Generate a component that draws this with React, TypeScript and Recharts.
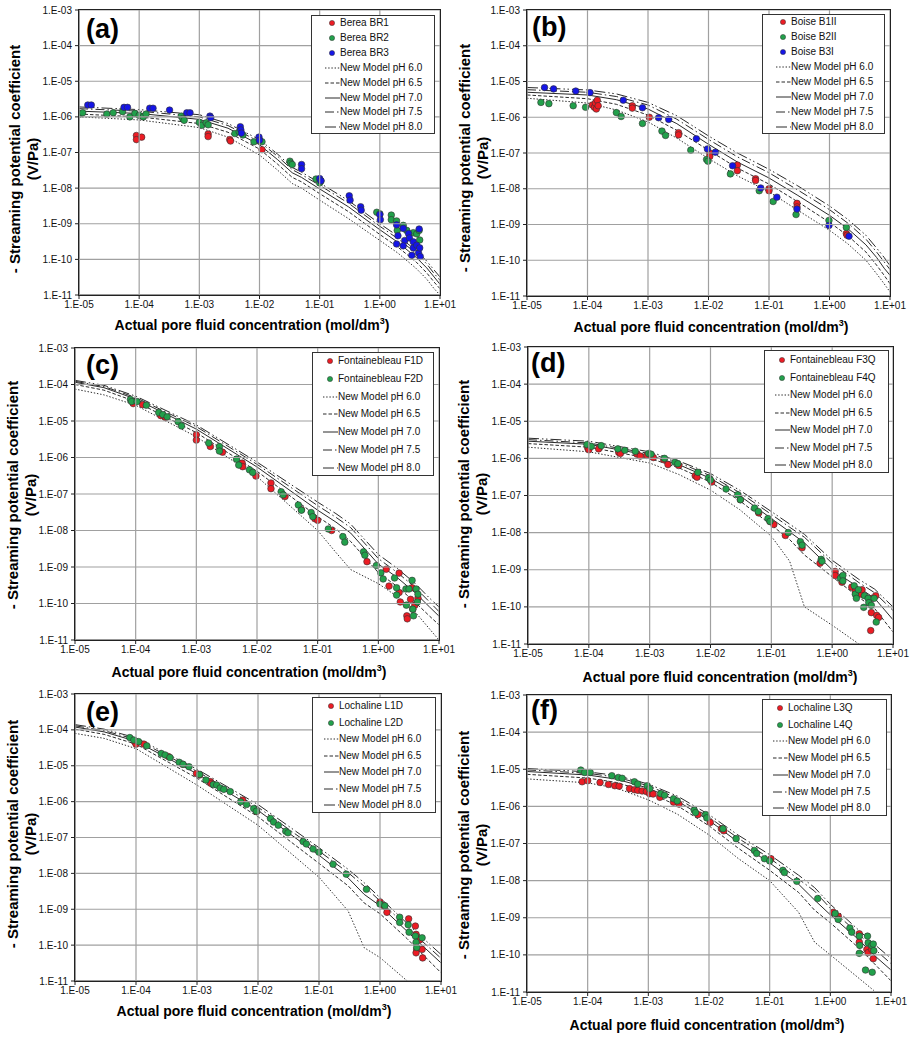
import React from 'react'
import { ScatterChart, Scatter, XAxis, YAxis } from 'recharts'

const FONT = '"Liberation Sans", Arial, Helvetica, sans-serif'

const X_TICKS = [1e-5, 1e-4, 1e-3, 1e-2, 1e-1, 1, 10]
const Y_TICKS = [1e-11, 1e-10, 1e-9, 1e-8, 1e-7, 1e-6, 1e-5, 1e-4, 1e-3]
const PH_LABELS = ['New Model pH 6.0', 'New Model pH 6.5', 'New Model pH 7.0', 'New Model pH 7.5', 'New Model pH 8.0']

// ---- (a) Berea ----
const aBR1 = [[9e-5, 3e-7], [9e-5, 2.3e-7], [1.1e-4, 2.7e-7], [1.4e-3, 3.3e-7], [1.4e-3, 2.8e-7], [3.2e-3, 2.3e-7], [3.3e-3, 2.1e-7], [1.1e-2, 1.2e-7]]
const aBR2 = [[1.05e-5, 1.2e-6], [1.15e-5, 1.3e-6], [2.9e-5, 1.2e-6], [3.7e-5, 1.3e-6], [5.3e-5, 1.4e-6], [7e-5, 1e-6], [8.5e-5, 1.25e-6], [1e-4, 1.1e-6], [1.17e-4, 1e-6], [1.3e-4, 1.2e-6], [5e-4, 1.05e-6], [5.3e-4, 9e-7], [5.6e-4, 8e-7], [1e-3, 7e-7], [1.1e-3, 5.8e-7], [1.3e-3, 6.8e-7], [1.4e-3, 6e-7], [3.9e-3, 3.4e-7], [4.6e-3, 3.8e-7], [5.3e-3, 3.1e-7], [8.1e-3, 2e-7], [1e-2, 2.2e-7], [1.1e-2, 2e-7], [3.2e-2, 5.7e-8], [3.3e-2, 5e-8], [3.5e-2, 4.6e-8], [8.7e-2, 1.8e-8], [1e-1, 1.4e-8], [1.05e-1, 1.6e-8], [0.89, 2.1e-9], [1.0, 1.9e-9], [1.55, 1.75e-9], [1.55, 1.3e-9], [1.9, 1.2e-9], [1.95, 6.5e-10], [2.45, 9e-10], [2.8, 6.5e-10], [3.6, 5.6e-10], [4.1, 5.2e-10], [4.5, 6.5e-10], [4.6, 3.5e-10]]
const aBR3 = [[1.4e-5, 2.15e-6], [1.6e-5, 2.15e-6], [5.6e-5, 1.85e-6], [6.4e-5, 1.85e-6], [1.5e-4, 1.75e-6], [1.7e-4, 1.75e-6], [3.2e-4, 1.55e-6], [6.2e-4, 1.3e-6], [7e-4, 1.3e-6], [1.5e-3, 1.05e-6], [1.55e-3, 9.5e-7], [4.8e-3, 5.3e-7], [4.9e-3, 4.3e-7], [5e-3, 3.5e-7], [9.8e-3, 2.7e-7], [1e-2, 2.2e-7], [5e-2, 4.6e-8], [5e-2, 3.5e-8], [1e-1, 1.85e-8], [1.05e-1, 1.6e-8], [0.31, 6.1e-9], [0.32, 4.6e-9], [0.48, 3e-9], [0.49, 2.4e-9], [1.0, 1.8e-9], [1.02, 1.3e-9], [1.9, 9.3e-10], [2.0, 4.6e-10], [1.9, 2.7e-10], [2.45, 7.4e-10], [2.6, 3.4e-10], [2.45, 2.4e-10], [3.0, 5.3e-10], [3.1, 4e-10], [3.6, 3.1e-10], [3.6, 2.1e-10], [3.4, 1.3e-10], [4.1, 2.5e-10], [4.4, 1.5e-10], [4.6, 2.1e-10], [4.5, 7.1e-10], [4.7, 1.2e-10]]
const aCurveX = [1e-5, 1e-4, 1e-3, 3e-3, 1e-2, 2e-2, 3.5e-2, 5e-2, 1e-1, 3e-1, 1, 2, 4, 6, 8, 10]
const aPH60 = [1.0e-6, 8.2e-7, 5e-7, 2.7e-7, 8.5e-8, 3.2e-8, 1.35e-8, 1e-8, 4.6e-9, 1.4e-9, 3.4e-10, 1.5e-10, 5.6e-11, 2.8e-11, 1.5e-11, 1e-11]
const aPH65 = [1.2e-6, 1.0e-6, 6.5e-7, 3.7e-7, 1.25e-7, 4.7e-8, 2e-8, 1.5e-8, 7e-9, 2.2e-9, 5e-10, 2.2e-10, 8.5e-11, 4.2e-11, 2.3e-11, 1.5e-11]
const aPH70 = [1.45e-6, 1.25e-6, 8.5e-7, 4.8e-7, 1.65e-7, 6.3e-8, 2.7e-8, 2e-8, 9.5e-9, 3.0e-9, 6.8e-10, 3e-10, 1.15e-10, 5.8e-11, 3.2e-11, 2e-11]
const aPH75 = [1.7e-6, 1.45e-6, 1.0e-6, 5.7e-7, 2.0e-7, 7.8e-8, 3.3e-8, 2.4e-8, 1.2e-8, 3.8e-9, 8.5e-10, 3.8e-10, 1.5e-10, 7.5e-11, 4e-11, 2.6e-11]
const aPH80 = [1.9e-6, 1.6e-6, 1.15e-6, 6.5e-7, 2.3e-7, 9e-8, 3.8e-8, 2.8e-8, 1.4e-8, 4.5e-9, 1.0e-9, 4.5e-10, 1.8e-10, 9e-11, 5e-11, 3.2e-11]

// ---- (b) Boise ----
const bB1II = [[1.2e-4, 2.2e-6], [1.3e-4, 1.9e-6], [1.35e-4, 2.5e-6], [1.4e-4, 1.7e-6], [1.45e-4, 3e-6], [1.5e-4, 2.1e-6], [5.5e-4, 2.1e-6], [5.5e-4, 1.8e-6], [1.05e-3, 1e-6], [3.2e-3, 3.7e-7], [3.2e-3, 3.2e-7], [1.05e-2, 1e-7], [1.05e-2, 8e-8], [3e-2, 4.6e-8], [3e-2, 3.2e-8], [6e-2, 1.9e-8], [6e-2, 1.7e-8], [0.1, 1e-8], [0.1, 8.8e-9], [0.29, 3.9e-9], [0.29, 3.1e-9], [1.9, 5.6e-10], [1.95, 5e-10]]
const bB2II = [[1.7e-5, 2.6e-6], [2.3e-5, 2.4e-6], [5.8e-5, 2.1e-6], [9.3e-5, 1.9e-6], [3e-4, 1.35e-6], [3.6e-4, 1.05e-6], [8.1e-4, 6.7e-7], [1.7e-3, 4.1e-7], [1.95e-3, 3.1e-7], [5.1e-3, 1.2e-7], [9.3e-3, 6.6e-8], [9.8e-3, 5.9e-8], [2.3e-2, 2.6e-8], [6.9e-2, 8.8e-9], [0.117, 4.4e-9], [0.28, 1.9e-9], [0.98, 1.3e-9], [1.9, 8.3e-10]]
const bB3I = [[1.95e-5, 6.8e-6], [2.75e-5, 6.2e-6], [6.4e-5, 5.4e-6], [1.1e-4, 4.9e-6], [3.9e-4, 3e-6], [8.1e-4, 1.85e-6], [1.5e-3, 9.7e-7], [2.2e-3, 8.7e-7], [6.3e-3, 2.5e-7], [9.6e-3, 1.3e-7], [1.3e-2, 1.05e-7], [2.5e-2, 4.4e-8], [7.3e-2, 1.05e-8], [0.135, 5.8e-9], [0.29, 2.7e-9], [0.98, 9.4e-10], [2.1, 4.7e-10]]
const bCurveX = [1e-5, 1e-4, 3e-4, 1e-3, 3e-3, 1e-2, 3e-2, 1e-1, 3e-1, 1, 2, 4, 6, 8, 10]
const bPH60 = [3.4e-6, 2.5e-6, 1.6e-6, 7.4e-7, 2.6e-7, 7e-8, 2.3e-8, 8.2e-9, 2.5e-9, 6.9e-10, 2.9e-10, 1e-10, 4.2e-11, 2.2e-11, 1.3e-11]
const bPH65 = [4.2e-6, 3.3e-6, 2.3e-6, 1.15e-6, 4.3e-7, 1.2e-7, 3.8e-8, 1.35e-8, 4.3e-9, 1.15e-9, 4.9e-10, 1.7e-10, 7.3e-11, 3.8e-11, 2.2e-11]
const bPH70 = [5.0e-6, 4.2e-6, 3.1e-6, 1.7e-6, 6.6e-7, 1.75e-7, 5.6e-8, 2e-8, 6.5e-9, 1.8e-9, 7.7e-10, 2.7e-10, 1.2e-10, 6e-11, 3.8e-11]
const bPH75 = [5.9e-6, 5.0e-6, 3.8e-6, 2.2e-6, 8.8e-7, 2.4e-7, 7.8e-8, 2.8e-8, 9.2e-9, 2.6e-9, 1.1e-9, 3.9e-10, 1.7e-10, 9e-11, 5.5e-11]
const bPH80 = [6.8e-6, 5.8e-6, 4.5e-6, 2.6e-6, 1.1e-6, 3e-7, 1.0e-7, 3.5e-8, 1.2e-8, 3.3e-9, 1.4e-9, 5e-10, 2.2e-10, 1.2e-10, 7e-11]

// ---- (c) Fontainebleau F1D / F2D ----
const cF1D = [[9.1e-5, 3e-5], [1.3e-4, 2.8e-5], [2.6e-4, 1.4e-5], [3.1e-4, 1.25e-5], [1e-3, 4.2e-6], [1e-3, 3e-6], [1.7e-3, 2e-6], [2.7e-3, 1.4e-6], [5.7e-3, 7e-7], [5.8e-3, 5.6e-7], [9.6e-3, 3.1e-7], [1.7e-2, 2e-7], [1.7e-2, 1.4e-7], [2.9e-2, 8.5e-8], [5.4e-2, 3.7e-8], [9e-2, 2.1e-8], [0.1, 1.9e-8], [0.17, 1e-8], [0.65, 1.4e-9], [1.35, 8.7e-10], [1.5, 3e-10], [2.2, 6.8e-10], [2.2, 2e-10], [2.3, 1.1e-10], [2.95, 4.6e-11], [3.0, 3.8e-11], [3.4, 1.3e-10], [3.6, 2.7e-10], [3.7, 7e-11], [4.0, 9e-11], [4.5, 1.4e-10]]
const cF2D = [[8.2e-5, 3.9e-5], [8.6e-5, 3.4e-5], [1.05e-4, 3.4e-5], [1.5e-4, 2.7e-5], [2.4e-4, 1.7e-5], [2.8e-4, 1.5e-5], [3.3e-4, 1.3e-5], [5e-4, 9.6e-6], [5.7e-4, 7.3e-6], [1.6e-3, 2.5e-6], [2.4e-3, 2e-6], [2.4e-3, 1.5e-6], [4.6e-3, 9e-7], [5e-3, 6.2e-7], [7.5e-3, 4.6e-7], [8.5e-3, 3.9e-7], [2.5e-2, 1.15e-7], [2.7e-2, 9.5e-8], [4.8e-2, 5e-8], [5.4e-2, 3.6e-8], [7.8e-2, 3.1e-8], [8.3e-2, 2.4e-8], [0.15, 1.1e-8], [0.26, 6.8e-9], [0.28, 4.8e-9], [0.57, 2.6e-9], [0.6, 2.1e-9], [0.93, 1.1e-9], [1.1, 6.9e-10], [1.2, 4.7e-10], [1.85, 5e-10], [2.0, 2.7e-10], [2.0, 1.7e-10], [2.85, 2.5e-10], [2.9, 9e-11], [3.2, 2.5e-10], [3.6, 4.3e-10], [3.7, 7e-11], [3.8, 4.6e-11], [4.2, 2.5e-10], [4.4, 1.1e-10], [4.5, 1.8e-10]]
const cCurveX = [1e-5, 3e-5, 1e-4, 1e-3, 1e-2, 1e-1, 2e-1, 3.5e-1, 1, 2, 4, 7, 10]
const cPH60 = [7.5e-5, 5.2e-5, 2.7e-5, 3.7e-6, 3e-7, 1e-8, 2.5e-9, 8.5e-10, 3.5e-10, 1.6e-10, 6e-11, 2e-11, 1e-11]
const cPH65 = [1.0e-4, 7e-5, 3.4e-5, 4.8e-6, 4.2e-7, 2.4e-8, 1.1e-8, 5e-9, 7e-10, 3e-10, 1.1e-10, 4.5e-11, 2.6e-11]
const cPH70 = [1.15e-4, 8.2e-5, 4e-5, 6e-6, 5.5e-7, 3.6e-8, 1.7e-8, 8.5e-9, 1.2e-9, 5.3e-10, 2e-10, 8e-11, 4.5e-11]
const cPH75 = [1.22e-4, 8.8e-5, 4.4e-5, 7e-6, 6.5e-7, 4.8e-8, 2.3e-8, 1.2e-8, 1.7e-9, 7.3e-10, 2.8e-10, 1.1e-10, 6e-11]
const cPH80 = [1.3e-4, 9.5e-5, 4.8e-5, 7.8e-6, 7.5e-7, 6e-8, 2.9e-8, 1.5e-8, 2.2e-9, 9.5e-10, 3.6e-10, 1.4e-10, 8e-11]

// ---- (d) Fontainebleau F3Q / F4Q ----
const dF3Q = [[9.6e-5, 1.9e-6], [1e-4, 1.7e-6], [1.45e-4, 1.8e-6], [3.1e-4, 1.45e-6], [3.3e-4, 1.35e-6], [6.2e-4, 1.3e-6], [7e-4, 1.15e-6], [9e-4, 1.2e-6], [1.05e-3, 1.15e-6], [1.15e-3, 1.05e-6], [1.7e-3, 9.2e-7], [2e-3, 6.8e-7], [3e-3, 6.4e-7], [5.6e-3, 3.4e-7], [6e-3, 3.1e-7], [1.05e-2, 2.3e-7], [3.1e-2, 7.7e-8], [6.2e-2, 3.4e-8], [9.5e-2, 2e-8], [0.11, 1.65e-8], [0.17, 8.4e-9], [0.32, 3.9e-9], [0.63, 1.5e-9], [1.12, 9e-10], [1.12, 7e-10], [1.45, 4.6e-10], [2.1, 3.4e-10], [2.4, 2.6e-10], [3.0, 2.2e-10], [3.1, 2.9e-10], [4.4, 7e-11], [4.3, 2.3e-11], [4.5, 1.7e-10], [5.2, 2e-10], [5.4, 5.9e-11], [5.8, 5.2e-11]]
const dF4Q = [[9.3e-5, 2.35e-6], [1.1e-4, 2.1e-6], [1.6e-4, 2.2e-6], [3e-4, 1.8e-6], [3.9e-4, 1.65e-6], [5.8e-4, 1.55e-6], [9.6e-4, 1.35e-6], [1.05e-3, 1.3e-6], [1.75e-3, 1e-6], [2.6e-3, 7.9e-7], [2.9e-3, 7.2e-7], [6.2e-3, 4.2e-7], [9.3e-3, 3e-7], [1e-2, 2.6e-7], [1.8e-2, 1.5e-7], [2.8e-2, 1.05e-7], [3.1e-2, 7.7e-8], [5.3e-2, 4.6e-8], [6.1e-2, 3.7e-8], [8.8e-2, 2.4e-8], [9.5e-2, 2e-8], [0.19, 1e-8], [0.3, 5.7e-9], [0.32, 4.6e-9], [0.66, 1.9e-9], [0.68, 1.7e-9], [1.37, 5.9e-10], [1.5, 7e-10], [1.5, 5e-10], [2.3, 3.7e-10], [2.4, 2.2e-10], [2.5, 1.7e-10], [2.7, 2.9e-10], [3.4, 2e-10], [3.9, 1.7e-10], [4.0, 1.3e-10], [3.3, 9.7e-11], [4.4, 1.1e-10], [4.9, 1.7e-10], [5.3, 3.9e-11]]
const dCurveX = [1e-5, 1e-4, 1e-3, 3e-3, 1e-2, 3e-2, 1e-1, 2e-1, 3.5e-1, 1, 2.75, 5, 10]
const dPH60 = [2.0e-6, 1.5e-6, 7.5e-7, 3.7e-7, 1.4e-7, 4.2e-8, 8e-9, 1.7e-9, 1e-10, 3.2e-11, 1e-11, null, null]
const dPH65 = [2.5e-6, 2.0e-6, 1.0e-6, 5.6e-7, 2.3e-7, 7.3e-8, 1.6e-8, 6.5e-9, 2.5e-9, 6.5e-10, 1.8e-10, 9e-11, 2.1e-11]
const dPH70 = [2.9e-6, 2.4e-6, 1.2e-6, 6.8e-7, 2.9e-7, 1e-7, 2.4e-8, 1.05e-8, 5.3e-9, 1e-9, 3.3e-10, 1.7e-10, 4.5e-11]
const dPH75 = [3.2e-6, 2.6e-6, 1.35e-6, 7.7e-7, 3.4e-7, 1.2e-7, 3.1e-8, 1.4e-8, 7.5e-9, 1.5e-9, 4.5e-10, 2.4e-10, 8e-11]
const dPH80 = [3.5e-6, 2.9e-6, 1.5e-6, 8.5e-7, 3.9e-7, 1.4e-7, 3.7e-8, 1.7e-8, 9e-9, 1.8e-9, 5.5e-10, 3e-10, 1e-10]

// ---- (e) Lochaline L1D / L2D ----
const eL1D = [[9.5e-5, 4.7e-5], [1e-4, 4e-5], [1.35e-4, 4e-5], [3.4e-4, 1.8e-5], [5.8e-4, 1.1e-5], [9.8e-4, 6.1e-6], [1.1e-3, 5.5e-6], [1.65e-3, 3.6e-6], [1.7e-3, 3.2e-6], [5.6e-3, 1.1e-6], [9.5e-3, 5.3e-7], [1.0, 1.6e-9], [1.15, 1.25e-9], [1.3, 8.2e-10], [2.95, 5.4e-10], [3.8, 3.4e-10], [3.9, 2e-10], [4.0, 7.6e-11], [3.9, 6.1e-11], [4.9, 7.6e-11], [5.0, 4.4e-11], [4.5, 1.4e-10]]
const eL2D = [[7.9e-5, 6.1e-5], [9.2e-5, 5.2e-5], [1.1e-4, 4.7e-5], [1.5e-4, 3.6e-5], [2.6e-4, 2.2e-5], [3e-4, 2e-5], [3.6e-4, 1.7e-5], [5.1e-4, 1.25e-5], [5.9e-4, 1.1e-5], [7.4e-4, 9.4e-6], [1.1e-3, 5.7e-6], [1.4e-3, 4e-6], [1.85e-3, 3e-6], [2.1e-3, 2.9e-6], [2.4e-3, 2.4e-6], [2.75e-3, 2.2e-6], [3.5e-3, 1.9e-6], [5.2e-3, 9.9e-7], [6.5e-3, 8.3e-7], [8.5e-3, 6.4e-7], [9.4e-3, 5.4e-7], [1.6e-2, 3.4e-7], [1.8e-2, 2.7e-7], [2.15e-2, 2.2e-7], [2.85e-2, 1.5e-7], [3.1e-2, 1.35e-7], [5.5e-2, 7.7e-8], [6.2e-2, 6.6e-8], [8e-2, 4.8e-8], [0.1, 3.9e-8], [0.17, 1.8e-8], [0.28, 9.5e-9], [0.6, 3.6e-9], [1.0, 1.4e-9], [1.2, 1.25e-9], [2.1, 6e-10], [2.1, 4.3e-10], [2.9, 3.7e-10], [3.0, 2.3e-10], [3.8, 1.8e-10], [3.9, 1.2e-10], [4.0, 8.6e-11], [4.9, 1.6e-10]]
const eCurveX = [1e-5, 3e-5, 1e-4, 1e-3, 1e-2, 1e-1, 3e-1, 5.5e-1, 1, 2.8, 5, 10]
const ePH60 = [8e-5, 5.8e-5, 3e-5, 2.9e-6, 2.2e-7, 7.8e-9, 9e-10, 8.5e-11, 4.5e-11, 1e-11, null, null]
const ePH65 = [1.05e-4, 7.5e-5, 4e-5, 4.5e-6, 3.8e-7, 1.9e-8, 4.5e-9, 1.5e-9, 7.5e-10, 1.5e-10, 5.5e-11, 1.7e-11]
const ePH70 = [1.2e-4, 8.8e-5, 4.8e-5, 6e-6, 5.7e-7, 3.2e-8, 7.5e-9, 2.6e-9, 1.25e-9, 2.4e-10, 9.5e-11, 3.2e-11]
const ePH75 = [1.3e-4, 9.5e-5, 5.4e-5, 7e-6, 7e-7, 4.2e-8, 1.05e-8, 4.4e-9, 1.7e-9, 3.2e-10, 1.25e-10, 4.3e-11]
const ePH80 = [1.4e-4, 1.05e-4, 6e-5, 8e-6, 8.3e-7, 5.2e-8, 1.3e-8, 5.5e-9, 2.1e-9, 4e-10, 1.6e-10, 5.5e-11]

// ---- (f) Lochaline L3Q / L4Q ----
const fL3Q = [[8.1e-5, 4.6e-6], [1e-4, 4.9e-6], [1.6e-4, 4.4e-6], [2.2e-4, 3.9e-6], [2.8e-4, 3.6e-6], [3.3e-4, 3.5e-6], [4.9e-4, 3e-6], [5.9e-4, 2.8e-6], [6.7e-4, 2.7e-6], [7.9e-4, 2.6e-6], [9.3e-4, 2.5e-6], [1.05e-3, 2.2e-6], [1.2e-3, 2.15e-6], [1.55e-3, 1.75e-6], [2.6e-3, 1.3e-6], [3.2e-3, 1.15e-6], [6.6e-3, 6e-7], [1.05e-2, 3.7e-7], [1.6e-2, 2.5e-7], [1.75e-2, 2.2e-7], [0.105, 3.9e-8], [1.12, 1.4e-9], [1.35, 1.1e-9], [3.0, 3.7e-10], [3.0, 2.2e-10], [4.0, 1.4e-10], [4.2, 1.15e-10], [4.8, 1.4e-10], [5.1, 7.9e-11]]
const fL4Q = [[7.7e-5, 9.5e-6], [8.9e-5, 8.2e-6], [1.1e-4, 8.2e-6], [2.5e-4, 6.7e-6], [3.2e-4, 6e-6], [3.7e-4, 5.7e-6], [5.9e-4, 4.6e-6], [6.7e-4, 4e-6], [9.6e-4, 3.6e-6], [1.05e-3, 3e-6], [1.6e-3, 2.2e-6], [1.85e-3, 2e-6], [2.6e-3, 1.6e-6], [3e-3, 1.4e-6], [5.7e-3, 7.9e-7], [6e-3, 6.8e-7], [8.8e-3, 6e-7], [9.2e-3, 4.9e-7], [1.7e-2, 2.5e-7], [2.8e-2, 1.35e-7], [5.6e-2, 6.5e-8], [6.1e-2, 5.4e-8], [8.2e-2, 3.9e-8], [0.1, 3.4e-8], [0.165, 1.9e-8], [0.175, 1.65e-8], [0.28, 9.6e-9], [0.62, 3.3e-9], [1.2, 1.3e-9], [1.35, 9e-10], [2.1, 5.3e-10], [2.25, 4.1e-10], [3.0, 3.2e-10], [3.05, 1.8e-10], [3.0, 1.1e-10], [3.8, 3.9e-11], [4.1, 3.2e-10], [4.2, 2.1e-10], [4.8, 1.8e-10], [4.9, 3.4e-11], [5.1, 1.95e-10], [5.2, 1.3e-10]]
const fCurveX = [1e-5, 1e-4, 3e-4, 1e-3, 3e-3, 1e-2, 3e-2, 1e-1, 3e-1, 5.5e-1, 1, 3, 5.2, 10]
const fPH60 = [5.5e-6, 4.3e-6, 3.1e-6, 1.5e-6, 6.2e-7, 1.7e-7, 4e-8, 1e-8, 1.4e-9, 2.2e-10, 1e-10, 2.3e-11, 1.1e-11, null]
const fPH65 = [7.3e-6, 5.8e-6, 4.4e-6, 2.4e-6, 1.05e-6, 3e-7, 7.6e-8, 1.9e-8, 4.8e-9, 1.6e-9, 7.3e-10, 1.5e-10, 6e-11, 2e-11]
const fPH70 = [8.7e-6, 7e-6, 5.4e-6, 3.1e-6, 1.4e-6, 4.2e-7, 1.1e-7, 3e-8, 8e-9, 3e-9, 1.2e-9, 2.5e-10, 1e-10, 3.9e-11]
const fPH75 = [9.6e-6, 7.8e-6, 6.1e-6, 3.6e-6, 1.65e-6, 5.1e-7, 1.4e-7, 4e-8, 1.1e-8, 5.2e-9, 1.8e-9, 3.5e-10, 1.5e-10, 5.8e-11]
const fPH80 = [1.05e-5, 8.5e-6, 6.8e-6, 4e-6, 1.9e-6, 6e-7, 1.7e-7, 5e-8, 1.4e-8, 6.5e-9, 2.3e-9, 4.5e-10, 2e-10, 8e-11]

const RED = '#ec1c24'
const GREEN = '#22a04b'
const BLUE = '#1515e6'
const LINE_COLOR = '#2a2a2a'
const GRID = '#a0a0a0'
const DASHES = ['1.4 1.8', '3.5 2', undefined, '9 3 1.5 3', '11 3 1.5 2.5 1.5 3']
const TICK_SIZE = 4
const TICK_GAP = 3

type Pts = number[][]
type PanelDef = {
  letter: string
  plot: { l: number; t: number; r: number; b: number }
  legend: { l: number; t: number; w: number; h: number; first: number; step: number; sample: number; text: number }
  letterPos: { l: number; cy: number }
  xLabel: { cx: number; cy: number }
  yLabel: { cx: number; cy: number }
  series: { name: string; color: string; pts: Pts }[]
  curveX: number[]
  curves: (number | null)[][]
}

const PANELS: PanelDef[] = [
  {
    letter: '(a)', plot: { l: 79, t: 10, r: 440, b: 295 },
    legend: { l: 311, t: 15, w: 124, h: 119, first: 7, step: 14.9, sample: 13, text: 28 },
    letterPos: { l: 86, cy: 29 }, xLabel: { cx: 252, cy: 325 }, yLabel: { cx: 24, cy: 159 },
    series: [{ name: 'Berea BR1', color: RED, pts: aBR1 }, { name: 'Berea BR2', color: GREEN, pts: aBR2 }, { name: 'Berea BR3', color: BLUE, pts: aBR3 }],
    curveX: aCurveX, curves: [aPH60, aPH65, aPH70, aPH75, aPH80],
  },
  {
    letter: '(b)', plot: { l: 527, t: 10, r: 890, b: 296 },
    legend: { l: 762, t: 14, w: 123, h: 120, first: 7, step: 15, sample: 13, text: 28 },
    letterPos: { l: 532, cy: 27 }, xLabel: { cx: 711, cy: 327 }, yLabel: { cx: 474, cy: 158 },
    series: [{ name: 'Boise B1II', color: RED, pts: bB1II }, { name: 'Boise B2II', color: GREEN, pts: bB2II }, { name: 'Boise B3I', color: BLUE, pts: bB3I }],
    curveX: bCurveX, curves: [bPH60, bPH65, bPH70, bPH75, bPH80],
  },
  {
    letter: '(c)', plot: { l: 75, t: 348, r: 439, b: 640 },
    legend: { l: 312, t: 352, w: 122, h: 124, first: 8, step: 17.8, sample: 10, text: 25 },
    letterPos: { l: 86, cy: 365 }, xLabel: { cx: 249, cy: 672 }, yLabel: { cx: 22, cy: 495 },
    series: [{ name: 'Fontainebleau F1D', color: RED, pts: cF1D }, { name: 'Fontainebleau F2D', color: GREEN, pts: cF2D }],
    curveX: cCurveX, curves: [cPH60, cPH65, cPH70, cPH75, cPH80],
  },
  {
    letter: '(d)', plot: { l: 528, t: 347, r: 893, b: 644 },
    legend: { l: 764, t: 350, w: 125, h: 123, first: 9, step: 17.5, sample: 10, text: 25 },
    letterPos: { l: 531, cy: 363 }, xLabel: { cx: 720, cy: 677 }, yLabel: { cx: 473, cy: 494 },
    series: [{ name: 'Fontainebleau F3Q', color: RED, pts: dF3Q }, { name: 'Fontainebleau F4Q', color: GREEN, pts: dF4Q }],
    curveX: dCurveX, curves: [dPH60, dPH65, dPH70, dPH75, dPH80],
  },
  {
    letter: '(e)', plot: { l: 75, t: 694, r: 441, b: 981 },
    legend: { l: 312, t: 697, w: 124, h: 116, first: 8, step: 16.5, sample: 11, text: 26 },
    letterPos: { l: 86, cy: 712 }, xLabel: { cx: 254, cy: 1011 }, yLabel: { cx: 22, cy: 834 },
    series: [{ name: 'Lochaline L1D', color: RED, pts: eL1D }, { name: 'Lochaline L2D', color: GREEN, pts: eL2D }],
    curveX: eCurveX, curves: [ePH60, ePH65, ePH70, ePH75, ePH80],
  },
  {
    letter: '(f)', plot: { l: 527, t: 695, r: 891, b: 992 },
    legend: { l: 762, t: 699, w: 125, h: 117, first: 8, step: 16.7, sample: 10, text: 25 },
    letterPos: { l: 531, cy: 710 }, xLabel: { cx: 707, cy: 1025 }, yLabel: { cx: 473, cy: 845 },
    series: [{ name: 'Lochaline L3Q', color: RED, pts: fL3Q }, { name: 'Lochaline L4Q', color: GREEN, pts: fL4Q }],
    curveX: fCurveX, curves: [fPH60, fPH65, fPH70, fPH75, fPH80],
  },
]

const fmtTick = (v: number) => {
  const e = Math.round(Math.log10(v))
  return `1.E${e < 0 ? '-' : '+'}${String(Math.abs(e)).padStart(2, '0')}`
}

const toCurve = (xs: number[], ys: (number | null)[]) =>
  xs.map((x, i) => ({ x, y: ys[i] })).filter((p) => p.y != null)

const toPoints = (pts: Pts) => pts.map(([x, y]) => ({ x, y }))

const noDot = () => <g />

function dotShape(color: string) {
  return (props: any) => (
    <circle cx={props.cx} cy={props.cy} r={3.3} fill={color} stroke="#333" strokeWidth={0.6} />
  )
}

// tick renderers that also draw the gridline at the tick coordinate given by the axis scale
function xTick(plotH: number) {
  return (props: any) => {
    const { x, y, payload } = props
    const yAxis = y - TICK_SIZE - 2
    return (
      <g>
        <line x1={x} x2={x} y1={yAxis} y2={yAxis - plotH} stroke={GRID} strokeWidth={1.2} />
        <text x={x} y={y} dy="0.71em" textAnchor="middle" fontSize={10} fill="#111" fontFamily={FONT}>
          {fmtTick(payload.value)}
        </text>
      </g>
    )
  }
}

function yTick(plotW: number) {
  return (props: any) => {
    const { x, y, payload } = props
    const xAxis = x + TICK_SIZE + TICK_GAP
    return (
      <g>
        <line x1={xAxis} x2={xAxis + plotW} y1={y} y2={y} stroke={GRID} strokeWidth={1.2} />
        <text x={x} y={y} dy="0.355em" textAnchor="end" fontSize={10} fill="#111" fontFamily={FONT}>
          {fmtTick(payload.value)}
        </text>
      </g>
    )
  }
}

function PanelChart({ p }: { p: PanelDef }) {
  const plotW = p.plot.r - p.plot.l
  const plotH = p.plot.b - p.plot.t
  const w = plotW + 80
  const h = plotH + 30
  return (
    <div style={{ position: 'absolute', left: p.plot.l - 60, top: p.plot.t - 5 }}>
      <ScatterChart width={w} height={h} margin={{ top: 5, right: 20, left: 0, bottom: 0 }}>
        <XAxis
          type="number" dataKey="x" scale="log" domain={[X_TICKS[0], X_TICKS[X_TICKS.length - 1]]} ticks={X_TICKS}
          allowDataOverflow interval={0} tick={xTick(plotH)}
          tickSize={TICK_SIZE} tickMargin={2} height={25} axisLine={{ stroke: '#222' }} tickLine={{ stroke: '#222' }}
        />
        <YAxis
          type="number" dataKey="y" scale="log" domain={[Y_TICKS[0], Y_TICKS[Y_TICKS.length - 1]]} ticks={Y_TICKS}
          allowDataOverflow interval={0} tick={yTick(plotW)}
          tickSize={TICK_SIZE} tickMargin={TICK_GAP} width={60} axisLine={{ stroke: '#222' }} tickLine={{ stroke: '#222' }}
        />
        {p.curves.map((ys, i) => (
          <Scatter
            key={`m${i}`} name={PH_LABELS[i]} data={toCurve(p.curveX, ys)} shape={noDot}
            line={{ stroke: LINE_COLOR, strokeWidth: 1, strokeDasharray: DASHES[i] }}
            legendType="none" isAnimationActive={false}
          />
        ))}
        {p.series.map((s) => (
          <Scatter key={s.name} name={s.name} data={toPoints(s.pts)} shape={dotShape(s.color)} isAnimationActive={false} />
        ))}
      </ScatterChart>
    </div>
  )
}

function PlotFrame({ p }: { p: PanelDef }) {
  return (
    <div
      style={{
        position: 'absolute', left: p.plot.l - 0.75, top: p.plot.t - 0.75,
        width: p.plot.r - p.plot.l + 1.5, height: p.plot.b - p.plot.t + 1.5,
        boxSizing: 'border-box', border: '1.5px solid #222', pointerEvents: 'none',
      }}
    />
  )
}

function LegendBox({ p }: { p: PanelDef }) {
  const L = p.legend
  const rows = [
    ...p.series.map((s) => ({ label: s.name, color: s.color, dash: null as string | undefined | null })),
    ...PH_LABELS.map((label, i) => ({ label, color: null as string | null, dash: DASHES[i] })),
  ]
  return (
    <div
      style={{
        position: 'absolute', left: L.l, top: L.t, width: L.w, height: L.h, boxSizing: 'border-box',
        border: '1.5px solid #333', background: '#fff', fontFamily: FONT, fontSize: 10, color: '#111',
      }}
    >
      {rows.map((r, i) => (
        <div key={r.label} style={{ position: 'absolute', left: 0, top: L.first + i * L.step - 7, height: 14, width: '100%' }}>
          <svg width={18} height={14} style={{ position: 'absolute', left: L.sample - 1, top: 0 }}>
            {r.color ? (
              <circle cx={8} cy={7} r={2.6} fill={r.color} stroke="#333" strokeWidth={0.5} />
            ) : (
              <line x1={1} x2={16} y1={7} y2={7} stroke={LINE_COLOR} strokeWidth={1} strokeDasharray={r.dash ?? undefined} />
            )}
          </svg>
          <span style={{ position: 'absolute', left: L.text, top: 1, whiteSpace: 'nowrap', lineHeight: '12px' }}>{r.label}</span>
        </div>
      ))}
    </div>
  )
}

function Texts({ p }: { p: PanelDef }) {
  return (
    <>
      <div style={{ position: 'absolute', left: p.letterPos.l, top: p.letterPos.cy - 16, fontSize: 27, fontWeight: 700, fontFamily: FONT, lineHeight: '32px' }}>
        {p.letter}
      </div>
      <div
        style={{
          position: 'absolute', left: p.xLabel.cx, top: p.xLabel.cy, transform: 'translate(-50%, -50%)',
          fontSize: 14, fontWeight: 700, fontFamily: FONT, whiteSpace: 'nowrap', lineHeight: '16px',
        }}
      >
        Actual pore fluid concentration (mol/dm<sup style={{ fontSize: 9, lineHeight: 0 }}>3</sup>)
      </div>
      <div
        style={{
          position: 'absolute', left: p.yLabel.cx, top: p.yLabel.cy, transform: 'translate(-50%, -50%) rotate(-90deg)',
          fontSize: 15, fontWeight: 700, fontFamily: FONT, whiteSpace: 'nowrap', lineHeight: '18px', textAlign: 'center',
        }}
      >
        <div>- Streaming potential coefficient</div>
        <div>(V/Pa)</div>
      </div>
    </>
  )
}

export default function App() {
  return (
    <div style={{ position: 'absolute', left: 0, top: 0, width: 913, height: 1037, background: '#fff', overflow: 'hidden' }}>
      {PANELS.map((p) => (
        <PanelChart key={p.letter} p={p} />
      ))}
      {PANELS.map((p) => (
        <React.Fragment key={`t${p.letter}`}>
          <PlotFrame p={p} />
          <LegendBox p={p} />
          <Texts p={p} />
        </React.Fragment>
      ))}
    </div>
  )
}
